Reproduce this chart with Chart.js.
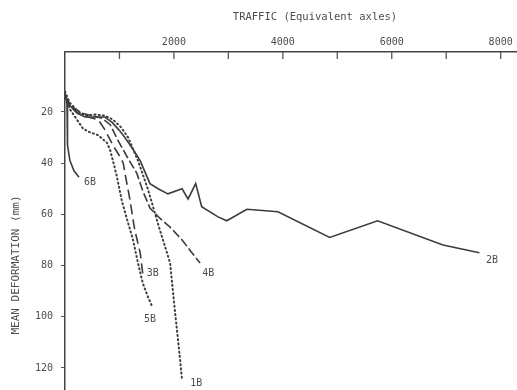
<!DOCTYPE html>
<html>
<head>
<meta charset="utf-8">
<script src="https://cdn.jsdelivr.net/npm/chart.js@4/dist/chart.umd.min.js"></script>
<style>
  html, body { margin: 0; padding: 0; background: #fff; }
  #wrap { width: 517px; height: 390px; }
</style>
</head>
<body>
<div id="wrap"><canvas id="chart"></canvas></div>
<script>
// traffic in equivalent axles, deformation in mm
const traffic2B = [0, 90, 220, 370, 550, 730, 860, 990, 1100, 1230, 1380, 1560, 1710, 1890, 2150, 2260, 2400, 2510, 2810, 2970, 3340, 3910, 4860, 5740, 6940, 7610];
const deform2B  = [14, 17.5, 20.5, 22, 22, 22, 24, 27, 30, 34, 39, 48, 50, 52, 50, 54, 48, 57, 61, 62.5, 58, 59, 69, 62.5, 72, 75];

const traffic1B = [0, 90, 225, 370, 550, 735, 880, 1030, 1160, 1340, 1520, 1740, 1930, 2020, 2110, 2150];
const deform1B  = [12, 16.5, 19.5, 21.5, 21, 21.5, 23, 26, 30, 39, 50, 66, 79, 98, 116, 125];

const traffic5B = [0, 90, 220, 330, 460, 600, 770, 830, 880, 950, 1046, 1140, 1250, 1340, 1430, 1520, 1600];
const deform5B  = [13, 19, 23, 26.5, 28, 29, 32, 35, 39, 45, 55, 62, 70, 79, 87, 92, 96];

const traffic3B = [0, 100, 240, 420, 610, 734, 880, 1010, 1070, 1110, 1190, 1280, 1380, 1430];
const deform3B  = [14, 18, 20.5, 22, 23, 27, 33, 37.5, 40, 45, 54, 66, 75, 83.5];

const traffic4B = [0, 130, 310, 500, 680, 830, 970, 1140, 1320, 1430, 1560, 1740, 1930, 2150, 2330, 2480];
const deform4B  = [14, 18, 20.5, 21.5, 22.5, 25, 31, 37.5, 44, 51, 57.5, 61.5, 65, 70, 75, 79];

const traffic6B = [18, 37, 37, 55, 90, 165, 257];
const deform6B  = [14, 17, 28, 33, 39, 43, 45.5];

const sections     = ['1B', '2B', '3B', '4B', '5B', '6B'];
const labelTraffic = [2300, 7730, 1500, 2520, 1450, 350];
const labelDeform  = [126, 78, 83, 83, 101, 47.5];

const trafficTicks = [1000, 2000, 3000, 4000, 5000, 6000, 7000, 8000];
const deformTicks  = [20, 40, 60, 80, 100, 120];

const mono = '"DejaVu Sans Mono", "Liberation Mono", monospace';
const ink = '#3c3c3c';
const textInk = '#4d4d4d';

function pts(xs, ys) {
  return xs.map((x, i) => ({ x: x, y: ys[i] }));
}

function line(label, xs, ys, dash, width) {
  return {
    label: label,
    data: pts(xs, ys),
    borderColor: ink,
    borderWidth: width,
    borderDash: dash,
    borderCapStyle: dash.length && dash[0] < 3 ? 'round' : 'butt',
    pointRadius: 0,
    tension: 0,
    fill: false
  };
}

// curve labels, axis titles and the inward tick marks on the top axis
const annotate = {
  id: 'annotate',
  afterDraw(chart) {
    const { ctx, scales: { x, y } } = chart;
    ctx.save();
    ctx.strokeStyle = '#555';
    ctx.lineWidth = 1.3;
    x.ticks.forEach((t, i) => {
      const px = x.getPixelForTick(i);
      ctx.beginPath();
      ctx.moveTo(px, y.top);
      ctx.lineTo(px, y.top + 7);
      ctx.stroke();
    });

    ctx.fillStyle = textInk;
    ctx.font = '10px ' + mono;
    ctx.textAlign = 'left';
    ctx.textBaseline = 'middle';
    sections.forEach((s, i) => {
      ctx.fillText(s, x.getPixelForValue(labelTraffic[i]), y.getPixelForValue(labelDeform[i]));
    });

    ctx.font = '10.5px ' + mono;
    ctx.textAlign = 'center';
    ctx.fillText('TRAFFIC (Equivalent axles)', 315, 17);

    ctx.translate(16, 265);
    ctx.rotate(-Math.PI / 2);
    ctx.font = '11px ' + mono;
    ctx.fillText('MEAN DEFORMATION (mm)', 0, 0);
    ctx.restore();
  }
};

new Chart(document.getElementById('chart'), {
  type: 'line',
  data: {
    datasets: [
      line('2B', traffic2B, deform2B, [], 1.6),
      line('1B', traffic1B, deform1B, [1, 3.2], 2),
      line('5B', traffic5B, deform5B, [1, 3.2], 2),
      line('3B', traffic3B, deform3B, [10, 5], 1.6),
      line('4B', traffic4B, deform4B, [9, 3], 1.6),
      line('6B', traffic6B, deform6B, [], 1.6)
    ]
  },
  options: {
    responsive: true,
    maintainAspectRatio: false,
    animation: false,
    layout: { padding: 0 },
    plugins: {
      legend: { display: false },
      tooltip: { enabled: false }
    },
    scales: {
      x: {
        type: 'linear',
        position: 'top',
        min: 0,
        max: 8300,
        afterBuildTicks: s => { s.ticks = trafficTicks.map(v => ({ value: v })); },
        afterFit: s => { s.height = 52; s.paddingLeft = 0; s.paddingRight = 0; },
        grid: { drawOnChartArea: false, drawTicks: false },
        border: { color: '#444', width: 1.5 },
        ticks: {
          color: textInk,
          font: { family: mono, size: 10 },
          padding: 4,
          maxRotation: 0,
          autoSkip: false,
          callback: v => (v % 2000 === 0 ? String(v) : '')
        }
      },
      y: {
        type: 'linear',
        reverse: true,
        min: -3.4,
        max: 128.6,
        afterBuildTicks: s => { s.ticks = deformTicks.map(v => ({ value: v })); },
        afterFit: s => { s.width = 65; s.paddingTop = 0; s.paddingBottom = 0; },
        grid: { drawOnChartArea: false, tickLength: 4, color: '#555' },
        border: { color: '#444', width: 1.5 },
        ticks: {
          color: textInk,
          font: { family: mono, size: 10 },
          padding: 8
        }
      }
    }
  },
  plugins: [annotate]
});
</script>
</body>
</html>
